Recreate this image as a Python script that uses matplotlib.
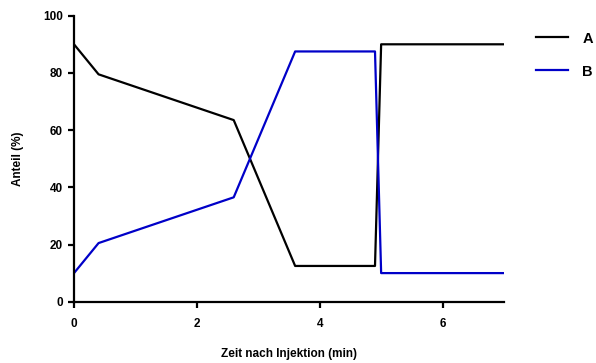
import matplotlib.pyplot as plt

# Gradientenprofil: Anteil der Eluenten A und B über die Zeit
zeit = [0, 0.4, 2.6, 3.6, 4.9, 5.0, 7.0]
anteil_a = [90, 79.5, 63.5, 12.5, 12.5, 90, 90]
anteil_b = [10, 20.5, 36.5, 87.5, 87.5, 10, 10]
x_ticks = [0, 2, 4, 6]
y_ticks = [0, 20, 40, 60, 80, 100]

plt.rcParams['font.family'] = ['Liberation Sans', 'DejaVu Sans']
plt.rcParams['font.weight'] = 'bold'

fig = plt.figure(figsize=(5.96, 3.63), dpi=100)
ax = fig.add_axes([74 / 596, 1 - 301.7 / 363, 430 / 596, 286 / 363])

ax.plot(zeit, anteil_a, color='black', lw=1.6, label='A')
ax.plot(zeit, anteil_b, color='#0000c8', lw=1.6, label='B')

ax.set_xlim(0, 7)
ax.set_ylim(0, 100)
ax.set_xticks(x_ticks)
ax.set_yticks(y_ticks)

for side in ['top', 'right']:
    ax.spines[side].set_visible(False)
for side in ['left', 'bottom']:
    ax.spines[side].set_linewidth(1.6)

ax.tick_params(axis='both', direction='out', length=4, width=1.6,
               labelsize=8.5)
ax.tick_params(axis='x', pad=8)
ax.tick_params(axis='y', pad=4)
for lab in ax.get_xticklabels() + ax.get_yticklabels():
    lab.set_fontweight('bold')

ax.set_xlabel('Zeit nach Injektion (min)', fontsize=8.5, fontweight='bold',
              labelpad=13)
ax.set_ylabel('Anteil (%)', fontsize=8.5, fontweight='bold', labelpad=14)

leg = ax.legend(loc='upper left', bbox_to_anchor=(1.06, 0.965), frameon=False,
                fontsize=10.5, handlelength=2.2, handletextpad=1.0,
                labelspacing=1.3, borderaxespad=0)
for t in leg.get_texts():
    t.set_fontweight('bold')

fig.savefig('out.png', dpi=100)
